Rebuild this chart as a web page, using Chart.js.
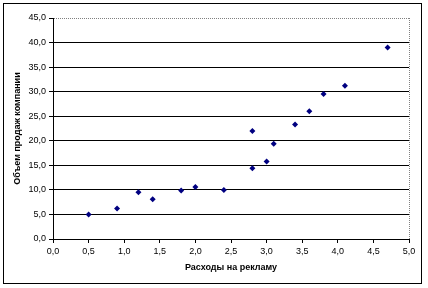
<!DOCTYPE html>
<html lang="ru">
<head>
  <meta charset="UTF-8">
  <title>Объем продаж и расходы на рекламу</title>
  <script src="https://cdn.jsdelivr.net/npm/chart.js@4.4.0/dist/chart.umd.min.js"></script>
  <style>
    html, body { margin: 0; padding: 0; background: #fff; }
    #wrap { width: 428px; height: 288px; }
  </style>
</head>
<body>
  <div id="wrap"><canvas id="chart" width="428" height="288"></canvas></div>
  <script>
    // расходы на рекламу / объем продаж
    const adSpend = [0.5, 0.9, 1.2, 1.4, 1.8, 2.0, 2.4, 2.8, 2.8, 3.0, 3.1, 3.4, 3.6, 3.8, 4.1, 4.7];
    const sales   = [5.0, 6.2, 9.5, 8.1, 9.9, 10.6, 10.0, 14.4, 22.0, 15.8, 19.4, 23.3, 26.0, 29.5, 31.2, 39.0];
    const xTitle = 'Расходы на рекламу';
    const yTitle = 'Объем продаж компании';

    const points = adSpend.map((x, i) => ({ x: x, y: sales[i] }));
    const fmt = v => v.toFixed(1).replace('.', ',');

    // outer frame around the whole chart, like excel
    const frame = {
      id: 'frame',
      afterDraw(chart) {
        const c = chart.ctx;
        c.save();
        c.strokeStyle = '#000';
        c.lineWidth = 1;
        c.strokeRect(3.5, 3.5, 418, 280);
        c.restore();
      }
    };

    new Chart(document.getElementById('chart'), {
      type: 'scatter',
      data: {
        datasets: [{
          data: points,
          pointStyle: 'rectRot',
          pointRadius: 3,
          pointBackgroundColor: '#000080',
          pointBorderColor: '#000080',
          pointBorderWidth: 0
        }]
      },
      options: {
        responsive: false,
        animation: false,
        layout: { padding: { left: 0, right: 19, top: 18, bottom: 0 } },
        plugins: { legend: { display: false }, tooltip: { enabled: false } },
        scales: {
          x: {
            min: 0, max: 5,
            afterFit(s) { s.height = 49; },
            ticks: {
              stepSize: 0.5, padding: 3, color: '#000',
              font: { family: 'Liberation Sans, Arial', size: 9 },
              callback: v => fmt(v)
            },
            grid: {
              drawTicks: true, tickLength: 4, tickColor: '#000',
              color: ctx => ctx.tick && ctx.tick.value === 5 ? '#808080' : 'rgba(0,0,0,0)'
            },
            border: { display: true, color: '#000', width: 1, dash: ctx => ctx.tick && ctx.tick.value === 5 ? [1, 1] : [] },
            title: {
              display: true, text: xTitle, color: '#000',
              font: { family: 'Liberation Sans, Arial', size: 9, weight: 'bold' },
              padding: { top: 0, bottom: 14.6 }
            }
          },
          y: {
            min: 0, max: 45,
            afterFit(s) { s.width = 53; },
            ticks: {
              stepSize: 5, padding: 3, color: '#000',
              font: { family: 'Liberation Sans, Arial', size: 9 },
              callback: v => fmt(v)
            },
            grid: {
              drawTicks: true, tickLength: 4, tickColor: '#000',
              color: ctx => ctx.tick && ctx.tick.value === 45 ? '#808080' : '#000'
            },
            border: { display: true, color: '#000', width: 1, dash: ctx => ctx.tick && ctx.tick.value === 45 ? [1, 1] : [] },
            title: {
              display: true, text: yTitle, color: '#000',
              font: { family: 'Liberation Sans, Arial', size: 9, weight: 'bold' },
              padding: { top: 12.6, bottom: 0 }
            }
          }
        }
      },
      plugins: [frame]
    });
  </script>
</body>
</html>
